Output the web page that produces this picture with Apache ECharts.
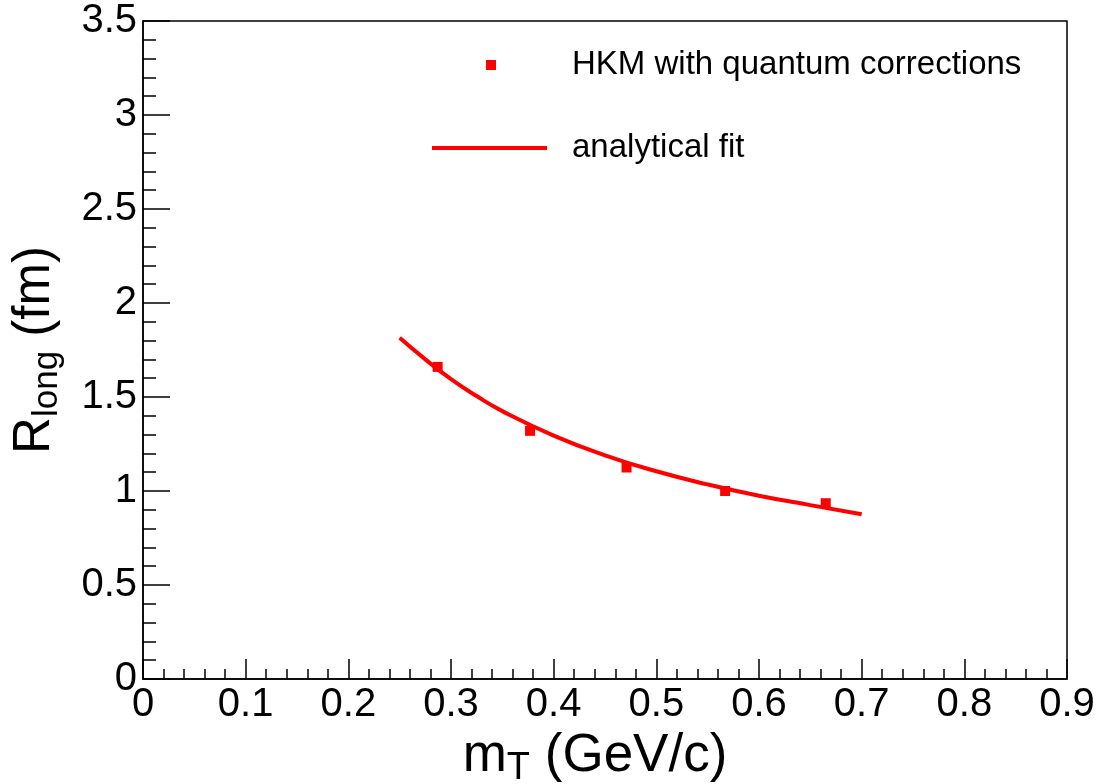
<!DOCTYPE html>
<html>
<head>
<meta charset="utf-8">
<script src="https://cdn.jsdelivr.net/npm/echarts@6/dist/echarts.min.js"></script>
<style>
  html, body { margin: 0; padding: 0; background: #fff; }
  #chart { width: 1104px; height: 784px; }
</style>
</head>
<body>
<div id="chart"></div>
<script>
// tick labels of the axes
const xTicks = [0, 0.1, 0.2, 0.3, 0.4, 0.5, 0.6, 0.7, 0.8, 0.9]
const yTicks = [0, 0.5, 1, 1.5, 2, 2.5, 3, 3.5]

// HKM points
const hkmMt = [0.287, 0.377, 0.471, 0.567, 0.665]
const hkmRlong = [1.66, 1.32, 1.125, 1.0, 0.935]

// analytical fit curve
const fitMt = [0.25, 0.275, 0.30, 0.325, 0.35, 0.40, 0.45, 0.50, 0.55, 0.60, 0.65, 0.70]
const fitRlong = [1.815, 1.70, 1.595, 1.505, 1.425, 1.295, 1.19, 1.105, 1.035, 0.975, 0.925, 0.876]

const font = '"Liberation Sans", Arial, Helvetica, sans-serif'

const chart = echarts.init(document.getElementById('chart'))
chart.setOption({
  animation: false,
  backgroundColor: '#fff',
  textStyle: { fontFamily: font },
  grid: {
    left: 143,
    right: 37,
    top: 21,
    bottom: 105,
    outerBoundsMode: 'none',
    containLabel: false,
    show: true,
    borderColor: '#000',
    borderWidth: 1.5
  },
  legend: [{
    data: ['HKM with quantum corrections'],
    left: 486,
    top: 47,
    padding: 0,
    selectedMode: false,
    icon: 'rect',
    itemWidth: 10,
    itemHeight: 10,
    itemStyle: { color: '#ff0000', opacity: 1 },
    textStyle: { fontSize: 33, lineHeight: 36, color: '#000', fontFamily: font, padding: [0, 0, 0, 71] }
  }, {
    data: ['analytical fit'],
    left: 432,
    top: 130,
    padding: 0,
    selectedMode: false,
    icon: 'rect',
    itemWidth: 115,
    itemHeight: 4,
    itemStyle: { color: '#ff0000', opacity: 1 },
    textStyle: { fontSize: 33, lineHeight: 36, color: '#000', fontFamily: font, padding: [0, 0, 0, 20] }
  }],
  xAxis: {
    type: 'value',
    min: xTicks[0],
    max: xTicks[xTicks.length - 1],
    interval: xTicks[1] - xTicks[0],
    splitLine: { show: false },
    axisLine: { onZero: false, lineStyle: { color: '#000', width: 1.5 } },
    axisTick: { inside: true, length: 20, lineStyle: { color: '#000', width: 1.5 } },
    minorTick: { show: true, splitNumber: 5, length: 10, lineStyle: { color: '#000', width: 1.5 } },
    axisLabel: { color: '#000', fontSize: 40, margin: 6, fontFamily: font, showMinLabel: true, showMaxLabel: true },
    name: '{m|m}{sub|T}{m| (GeV/c)}',
    nameLocation: 'middle',
    nameGap: 40,
    nameTextStyle: {
      padding: [0, 20, 0, 0],
      rich: {
        m: { fontSize: 53, lineHeight: 62, color: '#000', fontFamily: font, verticalAlign: 'middle' },
        sub: { fontSize: 38, lineHeight: 38, color: '#000', fontFamily: font, verticalAlign: 'bottom' }
      }
    }
  },
  yAxis: {
    type: 'value',
    min: yTicks[0],
    max: yTicks[yTicks.length - 1],
    interval: yTicks[1] - yTicks[0],
    splitLine: { show: false },
    axisLine: { onZero: false, lineStyle: { color: '#000', width: 1.5 } },
    axisTick: { inside: true, length: 27, lineStyle: { color: '#000', width: 1.5 } },
    minorTick: { show: true, splitNumber: 5, length: 13, lineStyle: { color: '#000', width: 1.5 } },
    axisLabel: { color: '#000', fontSize: 40, margin: 6, fontFamily: font, showMinLabel: true, showMaxLabel: true },
    name: '{m|R}{sub|long}{m| (fm)}',
    nameLocation: 'middle',
    nameGap: 78,
    nameTextStyle: {
      rich: {
        m: { fontSize: 51, lineHeight: 60, color: '#000', fontFamily: font, verticalAlign: 'middle' },
        sub: { fontSize: 35, lineHeight: 35, color: '#000', fontFamily: font, verticalAlign: 'bottom' }
      }
    }
  },
  series: [{
    name: 'HKM with quantum corrections',
    type: 'scatter',
    symbol: 'rect',
    symbolSize: 10,
    itemStyle: { color: '#ff0000', opacity: 1 },
    data: hkmMt.map((x, i) => [x, hkmRlong[i]]),
    z: 3
  }, {
    name: 'analytical fit',
    type: 'line',
    smooth: true,
    symbol: 'none',
    lineStyle: { color: '#ff0000', width: 4 },
    itemStyle: { color: '#ff0000' },
    data: fitMt.map((x, i) => [x, fitRlong[i]]),
    z: 2
  }]
})
</script>
</body>
</html>
